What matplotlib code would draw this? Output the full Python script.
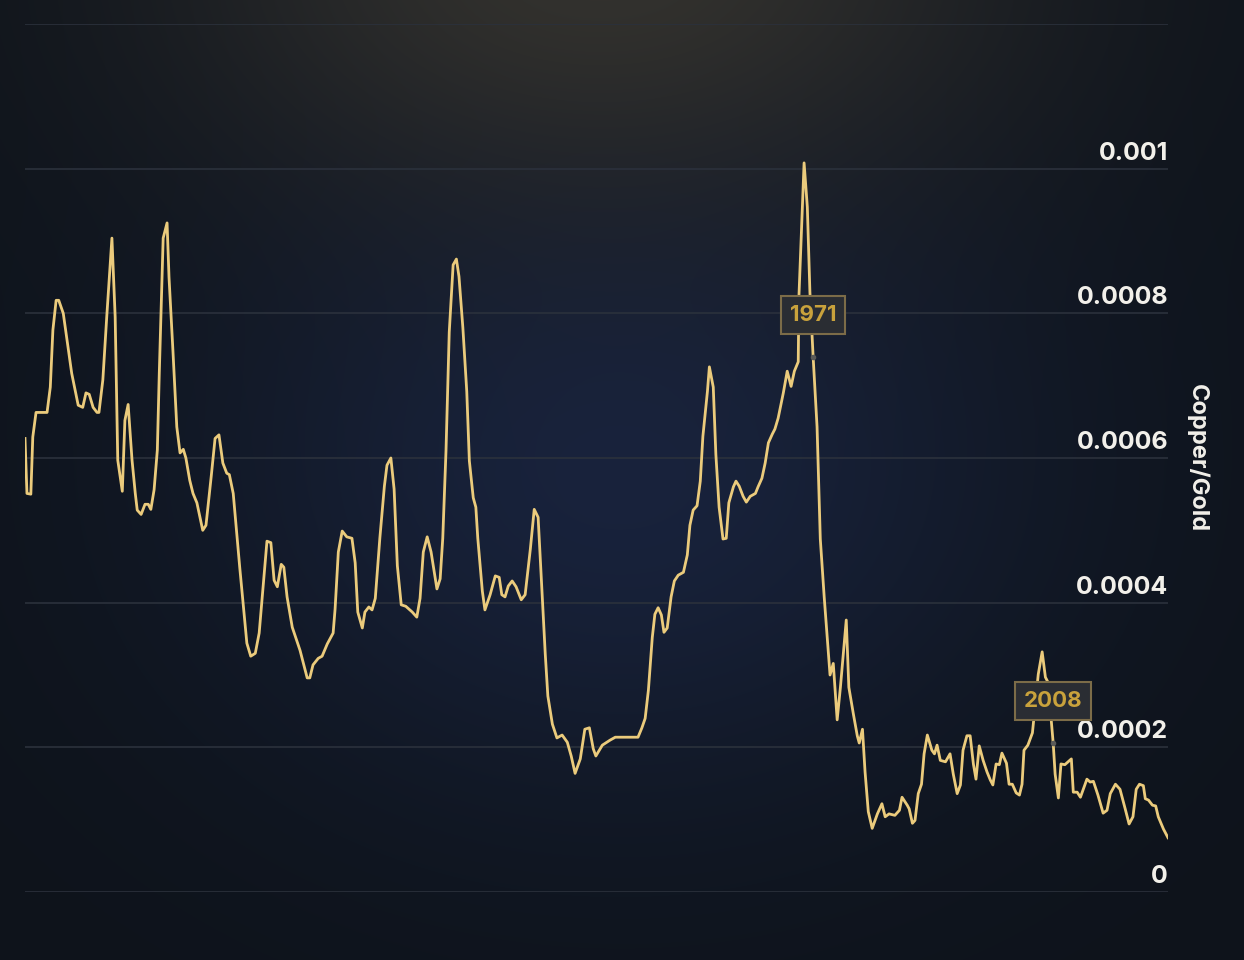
import numpy as np
import matplotlib
matplotlib.use("Agg")
import matplotlib.pyplot as plt

plt.rcParams['font.family'] = ['Inter', 'DejaVu Sans']

# Copper/Gold ratio, values in units of 1e-4
years = [1850.0,1850.3,1850.9,1851.2,1851.7,1853.4,1853.9,1854.3,1854.8,1855.2,1855.9,1857.2,1858.2,1858.9,1859.4,1859.9,
         1860.5,1861.1,1861.4,1862.0,1862.6,1863.4,1863.9,1864.3,1865.0,1865.4,1865.9,1866.5,1867.0,1867.3,1867.9,1868.5,
         1869.0,1869.4,1869.9,1870.4,1870.7,1871.3,1871.9,1872.2,1872.8,1873.4,1873.9,1874.4,1874.8,1875.4,1875.9,1876.5,
         1877.4,1877.9,1878.7,1879.3,1879.9,1880.5,1881.1,1881.5,1882.1,1883.1,1884.2,1884.8,1885.5,1886.1,1887.3,1887.9,
         1888.4,1888.9,1889.5,1889.9,1890.4,1891.2,1892.4,1893.5,1893.9,1894.4,1895.2,1895.8,1896.6,1897.5,1897.8,1898.3,
         1898.9,1899.6,1900.4,1900.9,1901.3,1902.0,1902.4,1903.0,1903.5,1904.0,1904.7,1905.4,1905.8,1906.4,1906.9,1907.4,
         1908.0,1908.7,1909.7,1910.4,1910.9,1911.4,1912.0,1912.6,1913.5,1914.0,1914.4,1914.9,1915.4,1916.0,1916.5,1916.9,
         1917.5,1918.1,1918.5,1919.1,1919.5,1919.8,1920.5,1920.9,1921.7,1922.5,1923.1,1923.5,1924.0,1924.5,1925.1,1925.7,
         1926.5,1927.1,1927.9,1928.5,1929.1,1929.7,1930.2,1930.6,1931.3,1932.0,1932.8,1933.6,1934.2,1934.8,1935.6,1936.3,
         1937.0,1937.6,1938.0,1939.0,1940.2,1941.0,1944.5,1945.1,1945.6,1946.1,1946.7,1947.1,1947.6,1948.1,1948.5,1949.0,
         1949.6,1950.1,1950.7,1951.5,1952.1,1952.5,1953.0,1953.6,1954.1,1954.5,1955.2,1955.5,1956.1,1956.5,1957.0,1957.6,
         1958.1,1958.5,1959.2,1959.6,1960.1,1960.7,1961.2,1961.8,1962.6,1963.0,1963.6,1964.1,1964.6,1965.2,1965.6,1966.1,
         1966.9,1967.5,1968.1,1968.6,1969.2,1969.3,1970.1,1970.6,1971.0,1971.5,1972.1,1972.6,1973.2,1973.7,1974.1,1974.6,
         1975.2,1975.7,1976.6,1977.0,1977.7,1978.3,1978.6,1979.1,1979.5,1980.0,1980.6,1981.4,1982.1,1982.6,1983.2,1984.1,
         1984.8,1985.2,1986.0,1986.3,1986.8,1987.2,1987.7,1988.2,1988.6,1989.1,1989.8,1990.2,1990.6,1991.1,1991.9,1992.6,
         1993.1,1993.7,1994.2,1994.6,1995.2,1995.7,1996.2,1996.6,1997.1,1997.7,1998.3,1998.8,1999.2,1999.7,2000.2,2000.6,
         2001.3,2001.7,2002.2,2002.8,2003.3,2003.7,2004.0,2004.6,2005.3,2005.7,2006.2,2006.8,2007.3,2007.7,2008.5,2008.8,
         2009.3,2009.7,2010.3,2010.8,2011.3,2011.6,2012.2,2012.7,2013.1,2013.7,2014.2,2014.7,2015.4,2016.2,2016.8,2017.3,
         2018.1,2018.8,2019.6,2020.2,2020.8,2021.3,2021.8,2022.4,2022.7,2023.2,2023.8,2024.3,2024.7,2025.5,2026.2]
ratio = [6.27,5.51,5.50,6.29,6.63,6.63,6.98,7.77,8.18,8.18,8.00,7.17,6.73,6.70,6.90,6.88,
         6.70,6.63,6.63,7.08,7.95,9.04,7.95,5.97,5.54,6.52,6.74,5.97,5.51,5.28,5.22,5.36,
         5.36,5.29,5.56,6.11,7.17,9.04,9.25,8.50,7.49,6.43,6.07,6.12,6.00,5.69,5.51,5.38,
         5.00,5.07,5.74,6.27,6.32,5.93,5.79,5.77,5.51,4.49,3.44,3.26,3.30,3.58,4.85,4.83,
         4.31,4.22,4.53,4.49,4.08,3.66,3.34,2.96,2.96,3.14,3.23,3.26,3.43,3.58,3.91,4.70,
         4.99,4.91,4.89,4.55,3.87,3.65,3.87,3.94,3.90,4.06,4.89,5.61,5.90,6.00,5.57,4.51,
         3.97,3.95,3.87,3.80,4.06,4.70,4.91,4.70,4.19,4.33,4.89,6.10,7.74,8.67,8.75,8.51,
         7.80,6.92,5.96,5.45,5.32,4.89,4.16,3.90,4.11,4.37,4.35,4.11,4.08,4.23,4.30,4.22,
         4.04,4.11,4.74,5.29,5.18,4.16,3.29,2.71,2.32,2.13,2.17,2.07,1.88,1.64,1.84,2.25,
         2.27,1.98,1.88,2.03,2.10,2.14,2.14,2.27,2.40,2.79,3.52,3.84,3.93,3.83,3.59,3.65,
         4.08,4.30,4.38,4.42,4.66,5.07,5.28,5.34,5.68,6.30,6.92,7.26,6.98,6.05,5.32,4.88,
         4.89,5.38,5.60,5.68,5.61,5.47,5.39,5.47,5.51,5.60,5.72,5.93,6.21,6.33,6.40,6.55,
         6.90,7.20,6.99,7.20,7.33,8.22,10.08,9.47,8.29,7.39,6.43,4.88,4.08,3.47,3.00,3.16,
         2.38,2.83,3.76,2.83,2.46,2.16,2.06,2.25,1.66,1.11,0.88,1.08,1.22,1.04,1.08,1.06,
         1.13,1.31,1.20,1.15,0.95,0.99,1.36,1.49,1.91,2.17,1.96,1.91,2.03,1.82,1.80,1.91,
         1.63,1.36,1.48,1.96,2.16,2.16,1.77,1.56,2.02,1.82,1.66,1.55,1.48,1.77,1.76,1.92,
         1.78,1.49,1.49,1.37,1.34,1.49,1.96,2.03,2.20,2.56,3.01,3.32,2.97,2.90,2.06,1.63,
         1.30,1.77,1.76,1.80,1.84,1.38,1.38,1.31,1.41,1.56,1.52,1.53,1.34,1.09,1.13,1.36,
         1.49,1.42,1.15,0.94,1.04,1.42,1.49,1.47,1.29,1.27,1.20,1.19,1.04,0.87,0.75]
tick_vals = [0, 2, 4, 6, 8, 10, 12]
tick_labels = ["0", "0.0002", "0.0004", "0.0006", "0.0008", "0.001", ""]
annot_years = [1971.5, 2008.5]
annot_labels = ["1971", "2008"]

W, H = 1244, 960
fig = plt.figure(figsize=(W/100, H/100), dpi=100)

# background gradient
bg = fig.add_axes([0, 0, 1, 1])
bg.set_axis_off()
yy, xx = np.mgrid[0:H, 0:W]
base = np.array([0.055, 0.075, 0.105])
blue = np.array([0.095, 0.135, 0.235])
warm = np.array([0.20, 0.195, 0.18])
d_blue = np.exp(-(((xx-620)/420.0)**2 + ((yy-470)/330.0)**2))
d_warm = np.exp(-(((xx-600)/420.0)**2 + ((yy+40)/240.0)**2))
img = base[None, None, :] + (blue-base)[None, None, :]*d_blue[..., None]
img = img + (warm-img)*d_warm[..., None]
bg.imshow(np.clip(img, 0, 1), extent=[0, 1, 0, 1], aspect='auto', zorder=0)
bg.set_xlim(0, 1); bg.set_ylim(0, 1)

ax = fig.add_axes([25/W, (H-892)/H, (1168-25)/W, (892-24)/H])
ax.patch.set_alpha(0)
for s in ax.spines.values():
    s.set_visible(False)
ax.set_xlim(1850, 2026.2)
ax.set_ylim(0, 12)
ax.set_xticks([]); ax.set_yticks([])
for t in tick_vals:
    ax.axhline(t, color='#2b313c', lw=1.2, zorder=1)
for t, lab in zip(tick_vals, tick_labels):
    ax.annotate(lab, xy=(1, t), xycoords=('axes fraction', 'data'), xytext=(0, 3),
                textcoords='offset points', ha='right', va='bottom',
                color='#f2f0ea', fontsize=18, fontweight='bold', zorder=5)

ax.plot(years, ratio, color='#ebcb7c', lw=2.0, zorder=3, solid_joinstyle='round')

for yr, lab in zip(annot_years, annot_labels):
    v = np.interp(yr, years, ratio)
    ax.plot([yr], [v], 'o', ms=3, color='#5a5a58', zorder=4)
    ax.annotate(lab, xy=(yr, v), xytext=(0, 30.5), textcoords='offset points',
                ha='center', va='center', color='#c9a23c', fontsize=16, fontweight='bold',
                bbox=dict(boxstyle='square,pad=0.4', fc='#2a2d33', ec='#7c6c48', lw=1.5),
                zorder=6)

fig.text(1197/W, 1 - 458/H, "Copper/Gold", rotation=270, ha='center', va='center',
         color='#f2f0ea', fontsize=17, fontweight='bold')

fig.savefig("out.png", dpi=100)
